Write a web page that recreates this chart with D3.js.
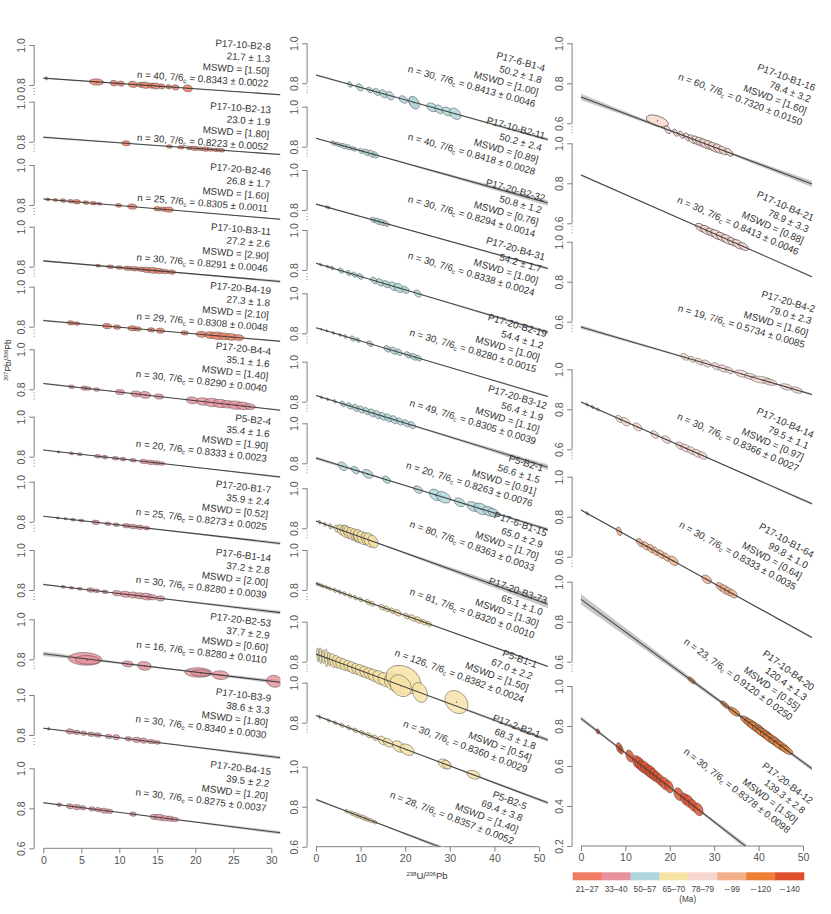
<!DOCTYPE html>
<html><head><meta charset="utf-8">
<script src="https://cdn.jsdelivr.net/npm/d3@7"></script>
<style>
body{margin:0;background:#fff}
text{font-family:"Liberation Sans",Arial,Helvetica,sans-serif}
</style>
</head><body>
<svg id="c" width="831" height="914"></svg>
<script>
// ================= DATA =================
const sampleNames = ["P17-10-B2-8","P17-10-B2-13","P17-20-B2-46","P17-10-B3-11","P17-20-B4-19","P17-20-B4-4","P5-B2-4","P17-20-B1-7","P17-6-B1-14","P17-20-B2-53","P17-10-B3-9","P17-20-B4-15",
 "P17-6-B1-4","P17-10-B2-11","P17-20-B2-32","P17-20-B4-31","P17-20-B2-19","P17-20-B3-12","P5-B2-1","P17-6-B1-15","P17-20-B3-73","P5-B1-1","P17-2-B2-1","P5-B2-5",
 "P17-10-B1-16","P17-10-B4-21","P17-20-B4-2","P17-10-B4-14","P17-10-B1-64","P17-10-B4-20","P17-20-B4-12"];
const ages = [21.7,23.0,26.8,27.2,27.3,35.1,35.4,35.9,37.2,37.7,38.6,39.5, 50.2,50.2,50.8,54.2,54.4,56.4,56.6,65.0,65.1,67.0,68.3,69.4, 78.4,78.9,79.0,79.5,99.8,120.4,139.3];
const ageErrs = [1.3,1.9,1.7,2.6,1.8,1.6,1.6,2.4,2.8,2.9,3.3,2.2, 1.8,2.4,1.2,1.7,1.2,1.9,1.5,2.9,1.0,2.2,1.8,3.8, 3.2,3.3,2.3,1.1,1.0,1.3,2.8];
const mswds = [1.50,1.80,1.60,2.90,2.10,1.40,1.90,0.52,2.00,0.60,1.80,1.20, 1.00,0.89,0.76,1.00,1.00,1.10,0.91,1.70,1.30,1.50,0.54,1.40, 1.60,0.88,1.60,0.97,0.64,0.55,1.50];
const nGrains = [40,30,25,30,29,30,20,25,30,16,30,30, 30,40,30,30,30,49,20,80,81,126,30,28, 60,30,19,30,30,23,30];
const intercepts = [0.8343,0.8223,0.8305,0.8291,0.8308,0.8290,0.8333,0.8273,0.8280,0.8280,0.8340,0.8275, 0.8413,0.8418,0.8294,0.8338,0.8280,0.8305,0.8263,0.8363,0.8320,0.8382,0.8360,0.8357, 0.7320,0.8413,0.5734,0.8366,0.8333,0.9120,0.8378];
const interceptErrs = [0.0022,0.0052,0.0011,0.0046,0.0048,0.0040,0.0023,0.0025,0.0039,0.0110,0.0030,0.0037, 0.0046,0.0028,0.0014,0.0024,0.0015,0.0039,0.0076,0.0033,0.0010,0.0024,0.0029,0.0052, 0.0150,0.0046,0.0085,0.0027,0.0035,0.0250,0.0098];
const ageGroups = [0,0,0,0,0,1,1,1,1,1,1,1, 2,2,2,2,2,2,2,3,3,3,3,3, 4,4,4,4,5,6,7];
const errCorr = [-0.1,-0.1,-0.1,-0.1,-0.1,-0.1,-0.1,-0.1,-0.1,-0.1,-0.1,-0.1, -0.35,-0.35,-0.35,-0.35,-0.35,-0.35,-0.35,-0.3,-0.35,-0.25,-0.35,-0.35, -0.5,-0.5,-0.4,-0.4,-0.4,-0.65,-0.3];
const groupLabels = ["21\u201327","33\u201340","50\u201357","65\u201370","78\u201379","\u223C99","\u223C120","\u223C140"];
const groupColors = ["#EE7B62","#E8919B","#AED5D9","#F6E2A5","#F8D6CD","#F1AE8B","#EE7F35","#DD4F2D"];
const xTicks1 = [0,5,10,15,20,25,30];
const xTicks23 = [0,10,20,30,40,50];

// measured points: [238U/206Pb, 207Pb/206Pb, half-width x, half-width y]
const pts_P17_10_B2_8 = [[0.4,.833,.15,.008],[7.0,.815,.95,.016],[9.3,.809,.5,.014],[10.2,.807,.45,.013],[11.8,.803,.6,.015],[12.8,.801,.5,.013],[13.4,.799,.7,.016],[14.2,.797,.5,.013],[14.8,.795,.6,.015],[15.6,.793,.4,.013],[16.5,.791,.4,.011],[17.4,.788,.45,.013],[19.0,.783,.6,.017]];
const pts_P17_10_B2_13 = [[10.9,.792,.55,.013],[16.6,.776,.4,.009],[18.1,.772,.45,.009],[19.2,.769,.4,.009],[19.9,.767,.5,.011],[20.6,.765,.45,.009],[21.3,.763,.5,.011],[22.0,.761,.45,.009],[22.8,.759,.5,.009],[23.5,.757,.4,.009]];
const pts_P17_20_B2_46 = [[0.6,.828,.3,.007],[1.6,.825,.35,.007],[2.6,.822,.4,.009],[3.6,.819,.4,.009],[4.4,.816,.5,.011],[5.6,.812,.4,.009],[6.6,.809,.45,.009],[7.4,.806,.35,.007],[9.9,.798,.4,.009],[11.7,.792,.6,.013],[15.0,.781,.5,.011],[15.8,.779,.45,.011],[16.5,.777,.6,.013]];
const pts_P17_10_B3_11 = [[7.2,.805,.35,.007],[8.8,.800,.5,.009],[10.0,.796,.5,.009],[11.1,.792,.55,.011],[12.0,.790,.6,.011],[12.9,.787,.55,.011],[13.6,.784,.6,.013],[14.4,.782,.7,.015],[15.2,.779,.6,.013],[16.0,.776,.55,.011],[16.9,.773,.5,.011]];
const pts_P17_20_B4_19 = [[3.6,.819,.45,.011],[4.4,.816,.4,.009],[8.4,.803,.6,.013],[9.7,.798,.5,.011],[11.7,.792,.55,.013],[12.4,.789,.5,.011],[14.2,.784,.5,.011],[15.4,.780,.55,.013],[18.6,.769,.5,.011],[20.8,.762,.7,.015],[22.0,.758,.8,.017],[22.9,.755,.9,.019],[23.8,.752,.8,.017],[24.7,.749,.8,.017],[25.7,.746,.7,.015]];
const pts_P17_20_B4_4 = [[3.7,.813,.4,.009],[5.4,.806,.45,.011],[5.9,.804,.4,.009],[7.0,.799,.4,.009],[10.1,.786,.6,.013],[12.2,.777,.7,.015],[13.4,.772,.75,.017],[15.2,.764,.6,.013],[19.6,.745,.8,.017],[21.0,.739,.9,.019],[22.2,.734,1.0,.021],[23.3,.729,1.0,.021],[24.3,.725,.9,.019],[25.3,.721,1.0,.021],[26.3,.717,.9,.019],[27.2,.713,.7,.015]];
const pts_P5_B2_4 = [[2.0,.824,.2,.005],[3.7,.817,.3,.007],[4.8,.812,.35,.007],[7.2,.802,.45,.009],[8.1,.798,.4,.009],[9.5,.792,.45,.009],[10.5,.788,.4,.009],[11.8,.782,.45,.009],[13.2,.776,.5,.011],[14.1,.772,.55,.011],[14.9,.769,.5,.011],[15.6,.766,.4,.009]];
const pts_P17_20_B1_7 = [[1.9,.819,.2,.005],[2.9,.815,.25,.005],[3.9,.810,.3,.007],[5.0,.806,.35,.007],[6.9,.797,.5,.011],[8.5,.790,.4,.009],[9.6,.785,.4,.009],[10.9,.780,.5,.011],[11.8,.776,.55,.011],[12.7,.772,.5,.011],[13.6,.768,.45,.009]];
const pts_P17_6_B1_14 = [[2.6,.816,.3,.007],[3.7,.811,.3,.007],[4.8,.806,.35,.007],[6.2,.800,.5,.011],[7.0,.796,.45,.009],[8.1,.791,.4,.009],[9.7,.784,.6,.013],[10.8,.779,.65,.015],[11.8,.775,.7,.015],[12.7,.771,.7,.015],[13.6,.767,.75,.017],[14.3,.764,.6,.013],[15.4,.758,.55,.013]];
const pts_P17_20_B2_53 = [[5.5,.802,2.2,.032],[5.8,.797,1.6,.022],[11.1,.777,.75,.015],[13.3,.767,.9,.022],[20.4,.734,1.8,.024],[20.7,.732,1.3,.016],[23.3,.721,1.1,.022],[30.4,.690,1.0,.030]];
const pts_P17_10_B3_9 = [[0.7,.831,.15,.007],[3.5,.818,.5,.013],[4.4,.813,.45,.011],[5.3,.809,.4,.011],[6.3,.804,.5,.011],[7.2,.800,.45,.011],[8.6,.793,.45,.011],[9.6,.789,.45,.013],[11.2,.781,.45,.011],[12.3,.776,.55,.013],[13.2,.772,.5,.013],[14.2,.767,.5,.011],[15.0,.763,.4,.009]];
const pts_P17_20_B4_15 = [[2.1,.818,.3,.009],[3.5,.810,.45,.013],[4.4,.806,.5,.013],[5.2,.803,.4,.011],[6.4,.797,.45,.011],[7.2,.793,.4,.011],[8.0,.788,.5,.013],[8.7,.785,.45,.011],[11.8,.771,.45,.011],[14.6,.757,.55,.013],[15.3,.755,.6,.015],[16.0,.750,.6,.013],[16.7,.748,.5,.013],[17.3,.744,.5,.011]];
const pts_P17_6_B1_4 = [[7.6,.794,.5,.014],[9.8,.780,.8,.018],[12.0,.767,.7,.014],[13.6,.757,.8,.018],[15.1,.748,.9,.020],[16.6,.738,.9,.022],[19.6,.719,1.0,.018],[21.8,.705,1.0,.025],[22.0,.703,1.2,.032],[26.0,.680,1.2,.022],[27.6,.670,1.0,.022],[29.4,.659,1.2,.022],[31.2,.648,1.3,.029]];
const pts_P17_10_B2_11 = [[3.9,.818,.6,.011],[5.0,.811,.7,.011],[6.2,.803,.8,.013],[7.3,.797,.7,.013],[8.5,.789,.7,.011],[10.1,.779,.6,.013],[11.3,.772,.8,.016],[12.4,.765,.8,.018],[13.3,.759,.7,.016]];
const pts_P17_20_B2_32 = [[2.4,.815,.3,.007],[2.9,.812,.3,.007],[12.9,.750,.7,.014],[13.9,.743,.8,.016],[14.8,.738,.8,.016],[15.7,.732,.7,.014]];
const pts_P17_20_B4_31 = [[1.0,.827,.3,.007],[2.6,.817,.35,.007],[3.6,.810,.4,.009],[5.6,.797,.6,.013],[7.3,.785,.6,.013],[8.6,.777,.6,.013],[9.9,.768,.7,.014],[13.0,.748,.8,.016],[14.4,.738,.9,.018],[15.8,.729,.9,.018],[17.3,.719,1.0,.022],[18.6,.710,1.1,.023],[20.0,.701,.9,.018],[22.8,.682,.8,.018]];
const pts_P17_20_B2_19 = [[1.2,.820,.2,.005],[2.4,.812,.25,.005],[3.9,.802,.3,.007],[5.4,.792,.35,.007],[6.6,.784,.4,.009],[8.2,.774,.6,.013],[9.4,.766,.5,.011],[12.1,.748,.7,.014],[16.0,.722,.8,.016],[17.4,.713,.9,.018],[18.6,.705,.8,.016],[20.6,.692,.8,.016],[22.0,.682,.9,.016],[23.0,.676,.7,.014]];
const pts_P17_20_B3_12 = [[1.2,.822,.2,.007],[2.6,.812,.25,.007],[4.2,.802,.35,.009],[6.0,.789,.6,.014],[7.5,.779,.7,.016],[8.9,.769,.8,.018],[10.1,.761,.8,.018],[11.3,.753,.8,.018],[12.6,.744,.9,.020],[13.8,.735,.9,.020],[15.0,.727,.9,.020],[16.2,.719,.9,.020],[17.5,.710,.9,.020],[18.8,.701,.8,.018],[20.2,.692,.8,.018],[21.5,.683,.8,.018]];
const pts_P5_B2_1 = [[6.0,.785,1.0,.022],[8.8,.766,.9,.018],[11.6,.747,1.2,.022],[15.8,.718,.9,.018],[22.9,.669,1.0,.018],[26.8,.642,1.4,.029],[28.6,.630,1.6,.029],[32.2,.605,1.2,.022],[35.2,.584,1.4,.025],[37.0,.572,1.6,.029],[38.8,.560,1.4,.025],[39.8,.553,1.2,.022]];
const pts_P17_6_B1_15 = [[0.8,.830,.3,.010],[2.0,.820,.3,.010],[3.2,.810,.35,.014],[4.6,.799,.6,.018],[5.6,.792,.9,.026],[6.4,.784,1.0,.030],[6.8,.790,.9,.026],[7.2,.778,1.0,.030],[8.0,.772,1.1,.032],[8.8,.766,1.1,.032],[9.2,.756,.9,.026],[9.6,.760,1.2,.034],[10.4,.752,1.2,.034],[11.2,.747,1.1,.032],[12.0,.741,1.3,.036],[12.8,.734,1.1,.032]];
const pts_P17_20_B3_73 = [[0.3,.830,.3,.009],[0.9,.825,.3,.009],[1.5,.820,.35,.009],[2.3,.814,.35,.009],[3.1,.807,.4,.009],[4.2,.799,.4,.011],[5.3,.790,.4,.011],[6.4,.781,.4,.011],[7.6,.771,.45,.011],[8.8,.762,.45,.011],[10.0,.752,.5,.011],[11.6,.740,.6,.013],[12.6,.731,.6,.013],[14.8,.714,.7,.014],[15.9,.705,.7,.014],[17.1,.696,.7,.014],[18.3,.686,.8,.016],[20.3,.670,.7,.014],[21.6,.660,.8,.016],[22.9,.650,.8,.016],[24.2,.639,.7,.014],[25.3,.631,.6,.013]];
const pts_P5_B1_1 = [[0.4,.834,.25,.035],[1.0,.830,.3,.040],[1.6,.825,.3,.035],[2.3,.819,.35,.045],[3.0,.813,.4,.035],[3.8,.806,.8,.035],[4.6,.800,.9,.032],[5.4,.793,1.0,.030],[6.3,.786,1.0,.030],[7.2,.779,1.0,.028],[8.1,.771,1.1,.030],[9.0,.764,1.0,.028],[10.0,.756,1.2,.030],[11.0,.748,1.2,.030],[12.0,.740,1.3,.030],[13.0,.731,1.4,.032],[14.2,.721,1.5,.035],[15.5,.710,1.6,.036],[17.5,.697,2.2,.045],[19.6,.710,3.9,.072],[19.0,.680,2.4,.055],[23.3,.646,1.7,.050],[31.5,.598,2.6,.058]];
const pts_P17_2_B2_1 = [[0.8,.829,.2,.011],[2.8,.812,.35,.009],[4.3,.800,.45,.009],[5.8,.787,.5,.011],[7.3,.775,.55,.011],[8.8,.762,.6,.011],[10.3,.750,.6,.011],[11.8,.737,.65,.013],[13.2,.725,.7,.014],[14.9,.711,1.0,.022],[16.2,.700,1.1,.022],[18.5,.681,1.4,.029],[20.4,.665,1.6,.029],[28.8,.594,1.4,.025],[29.3,.590,1.0,.022],[35.3,.540,1.5,.022]];
const pts_P5_B2_5 = [[6.9,.777,.5,.009],[8.0,.768,.6,.011],[9.0,.759,.7,.013],[9.8,.752,.6,.011],[10.6,.745,.7,.013],[11.4,.738,.6,.011],[12.3,.731,.6,.011],[13.2,.723,.5,.009]];
const pts_P17_10_B1_16 = [[17.2,.612,2.5,.030],[19.5,.568,.7,.020],[21.3,.553,.6,.018],[22.6,.543,.6,.018],[23.9,.532,.7,.020],[25.0,.521,.9,.022],[26.0,.514,1.0,.023],[27.0,.506,1.2,.024],[28.0,.497,1.3,.025],[29.0,.490,1.2,.024],[30.0,.480,1.3,.025],[31.0,.473,1.2,.024],[32.0,.464,1.0,.022],[33.3,.455,.9,.020]];
const pts_P17_10_B4_21 = [[27.0,.578,1.2,.022],[28.2,.566,1.3,.024],[29.4,.554,1.2,.022],[30.6,.543,1.4,.025],[31.8,.531,1.3,.024],[33.0,.519,1.4,.025],[34.2,.507,1.2,.022],[35.4,.495,1.3,.024],[36.6,.484,1.1,.020]];
const pts_P17_20_B4_2 = [[23.4,.424,.9,.016],[25.0,.412,.8,.015],[26.6,.401,.9,.016],[28.2,.391,1.0,.017],[30.4,.377,1.0,.017],[32.0,.366,1.2,.018],[33.4,.357,.9,.016],[36.2,.340,1.6,.018],[38.2,.326,1.4,.016],[40.6,.310,2.4,.018],[42.5,.298,1.6,.016],[46.2,.274,1.4,.016],[48.6,.258,1.3,.016]];
const pts_P17_10_B4_14 = [[1.4,.823,.3,.008],[2.6,.811,.4,.008],[3.8,.799,.4,.008],[8.6,.752,.8,.018],[10.0,.738,1.0,.021],[12.7,.712,1.0,.020],[16.6,.674,.9,.019],[19.2,.649,1.0,.019],[22.3,.618,1.0,.019],[23.6,.606,1.1,.020],[24.9,.593,1.0,.020],[26.2,.580,1.1,.020],[27.4,.569,1.0,.019]];
const pts_P17_10_B1_64 = [[1.4,.816,.3,.009],[8.6,.727,.6,.022],[13.3,.670,.8,.021],[14.6,.654,.9,.021],[15.8,.640,.9,.022],[16.8,.627,.8,.021],[18.0,.613,.9,.022],[19.2,.598,.8,.021],[20.8,.579,1.1,.024],[28.3,.487,1.1,.022],[31.4,.449,1.0,.022],[32.4,.436,1.1,.024],[33.3,.425,1.0,.022],[34.2,.415,1.0,.022]];
const pts_P17_10_B4_20 = [[24.9,.507,.8,.016],[32.4,.385,.9,.018],[34.5,.350,1.3,.023],[37.3,.305,1.4,.024],[38.4,.288,1.7,.027],[39.4,.272,1.9,.028],[40.3,.256,1.7,.027],[41.2,.242,1.9,.028],[42.1,.227,1.7,.027],[43.0,.212,1.9,.028],[44.0,.196,1.7,.027],[45.1,.178,1.8,.027],[46.2,.160,1.5,.024]];
const pts_P17_20_B4_12 = [[3.8,.773,.4,.013],[8.6,.692,.7,.025],[9.0,.680,.55,.021],[11.0,.650,.9,.030],[12.6,.621,1.0,.032],[13.2,.612,1.1,.034],[13.8,.598,1.0,.032],[14.5,.590,1.1,.034],[15.2,.576,1.0,.032],[15.8,.568,1.1,.034],[16.4,.556,1.0,.032],[17.1,.545,.9,.030],[17.8,.531,.9,.030],[18.8,.513,1.1,.032],[19.8,.497,1.0,.032],[22.0,.459,1.1,.032],[23.4,.435,1.0,.030],[24.2,.424,1.1,.032],[25.2,.404,1.0,.030],[26.4,.383,1.1,.032]];

const pointSets = [pts_P17_10_B2_8,pts_P17_10_B2_13,pts_P17_20_B2_46,pts_P17_10_B3_11,pts_P17_20_B4_19,pts_P17_20_B4_4,pts_P5_B2_4,pts_P17_20_B1_7,pts_P17_6_B1_14,pts_P17_20_B2_53,pts_P17_10_B3_9,pts_P17_20_B4_15,
 pts_P17_6_B1_4,pts_P17_10_B2_11,pts_P17_20_B2_32,pts_P17_20_B4_31,pts_P17_20_B2_19,pts_P17_20_B3_12,pts_P5_B2_1,pts_P17_6_B1_15,pts_P17_20_B3_73,pts_P5_B1_1,pts_P17_2_B2_1,pts_P5_B2_5,
 pts_P17_10_B1_16,pts_P17_10_B4_21,pts_P17_20_B4_2,pts_P17_10_B4_14,pts_P17_10_B1_64,pts_P17_10_B4_20,pts_P17_20_B4_12];

// ================= LAYOUT =================
const KY = 200; // px per unit of 207Pb/206Pb
const columns = [
  {first:0, count:12, range:[34.2,280.4], domain:[-1.2,31.2], ticks:xTicks1,
   tops:[45,101.7,165,226.7,286.7,349.3,416.7,481.7,550,619.3,695,768.3]},
  {first:12, count:12, range:[307.1,547.9], domain:[-2,52], ticks:xTicks23,
   tops:[43.3,106.7,170,230,293.3,361.7,423.3,488.3,550,621.7,682.7,766.7]},
  {first:24, count:7, range:[572.1,811.9], domain:[-2,52], ticks:xTicks23,
   tops:[43.3,143.3,241.7,369.3,476.7,581.7,686]}
];
const labelRight = [271,271,271,271,271,271,271,271,271,271,271,271,
  545,545,545,545,546.7,546.7,543.3,546.7,546.7,536.7,540,526.7,
  815,813.3,815,813.3,813.3,813.3,811.7];
const labelDy = [1.7,8.3,6.7,5,4,2.4,5,8.3,8.3,4,3.3,3.4,
  25,29.3,28.3,27.3,40.7,44.3,45,45,50.7,43.3,52.3,40,
  44.7,75,67.6,65.7,78.3,106.6,115.7];
const LINE_H = 12.3;

// ================= DRAW =================
const L238 = 1.55125e-4, L235 = 9.8485e-4, U85 = 137.818; // decay constants per Ma
function concordiaTW(t){ const a=Math.expm1(L238*t), b=Math.expm1(L235*t); return [1/a, b/a/U85]; }

const svg = d3.select("#c");
const defs = svg.append("defs");
const axisColor = "#808080", labColor = "#555";

columns.forEach((col, ci) => {
  const x = d3.scaleLinear().domain(col.domain).range(col.range);
  const lastTop = col.tops[col.count-1];
  const lastTicks = ci===2 ? [1,.8,.6,.4,.2] : [1,.8,.6];
  const axisY = lastTop + (1 - lastTicks[lastTicks.length-1]) * KY;
  defs.append("clipPath").attr("id","clip"+ci).append("rect")
    .attr("x", col.range[0]).attr("y", 20).attr("width", col.range[1]-col.range[0]).attr("height", axisY-20);

  const gx = svg.append("g").attr("transform",`translate(0,${axisY})`)
    .call(d3.axisBottom(x).tickValues(col.ticks).tickSize(5).tickFormat(d3.format("d")));
  gx.select(".domain").remove();
  gx.append("line").attr("x1",x(col.ticks[0])).attr("x2",x(col.ticks[col.ticks.length-1]))
    .attr("stroke",axisColor);
  gx.selectAll(".tick line").attr("stroke",axisColor);
  gx.selectAll(".tick text").attr("fill",labColor).attr("font-size",10.5).attr("y",8);

  for (let j=0;j<col.count;j++){
    const i = col.first + j;
    const top = col.tops[j];
    const y = d3.scaleLinear().domain([1,0]).range([top, top+KY]);
    const last = j===col.count-1;
    const yt = last ? lastTicks : (ci===2 ? [1,.8,.6] : [1,.8]);

    const gy = svg.append("g").attr("transform",`translate(${col.range[0]},0)`)
      .call(d3.axisLeft(y).tickValues(yt).tickSize(5).tickFormat(d3.format(".1f")));
    gy.select(".domain").remove();
    gy.append("line").attr("y1",y(yt[0])).attr("y2",y(yt[yt.length-1])).attr("stroke",axisColor);
    if(!last){
      gy.append("line").attr("y1",y(yt[yt.length-1])+3).attr("y2",y(yt[yt.length-1])+11)
        .attr("stroke",axisColor).attr("stroke-dasharray","1,2");
    }
    gy.selectAll(".tick line").attr("stroke",axisColor);
    gy.selectAll(".tick text").attr("fill",labColor).attr("font-size",10.5)
      .attr("x",null).attr("dy",null).attr("text-anchor","middle")
      .attr("transform","translate(-9,0) rotate(-90)");

    const y0 = intercepts[i], e = interceptErrs[i];
    const [Xt, Yt] = concordiaTW(ages[i]);
    const slope = (Yt - y0) / Xt;
    const pts = pointSets[i];
    const xc = d3.mean(pts, d => d[0]);
    const xmax = col.domain[1];
    const xs = d3.range(0, 61).map(k => k * xmax / 60);
    const hw = xv => Math.sqrt(Math.pow(e*(1 - xv/xc),2) + Math.pow(0.3*e,2));
    const g = svg.append("g").attr("clip-path",`url(#clip${ci})`);
    g.append("path").datum(xs)
      .attr("d", d3.area().x(d=>x(d)).y0(d=>y(y0+slope*d-hw(d))).y1(d=>y(y0+slope*d+hw(d))))
      .attr("fill","#c8c8c8").attr("stroke","none");

    const kx = Math.abs(x(1)-x(0)), ky = Math.abs(y(0)-y(1));
    const rho = errCorr[i];
    const color = groupColors[ageGroups[i]];
    const strokeOp = (i===24 || i===25 || i===29) ? 0.95 : 0.7;
    const eg = g.append("g");
    pts.forEach(p => {
      const sxp = p[2]*kx, syp = p[3]*ky, b = -rho*sxp*syp;
      const a = sxp*sxp, dd = syp*syp;
      const m = (a+dd)/2, r = Math.sqrt(((a-dd)/2)**2 + b*b);
      const rx = Math.sqrt(m + r), ry = Math.sqrt(Math.max(m - r, 0.04));
      const ang = 0.5*Math.atan2(2*b, a-dd)*180/Math.PI;
      const cx = x(p[0]), cy = y(p[1]);
      eg.append("ellipse").attr("cx",cx).attr("cy",cy).attr("rx",rx).attr("ry",ry)
        .attr("transform",`rotate(${ang},${cx},${cy})`)
        .attr("fill",color).attr("fill-opacity",0.82)
        .attr("stroke","#3a3a3a").attr("stroke-opacity",strokeOp).attr("stroke-width",0.6);
      eg.append("circle").attr("cx",cx).attr("cy",cy).attr("r",0.55).attr("fill","#222");
    });

    g.append("path").datum([0, xmax])
      .attr("d", d3.line().x(d=>x(d)).y(d=>y(y0+slope*d)))
      .attr("stroke","#444").attr("stroke-width",1.05).attr("fill","none");

    const theta = Math.atan(-slope*ky/kx)*180/Math.PI;
    const lx = labelRight[i], ly = top + labelDy[i];
    const tg = svg.append("g").attr("transform",`translate(${lx},${ly}) rotate(${theta})`)
      .attr("font-size",9.8).attr("fill","#333").attr("text-anchor","end");
    const lines = [sampleNames[i], `${ages[i].toFixed(1)} \u00B1 ${ageErrs[i].toFixed(1)}`, `MSWD = [${mswds[i].toFixed(2)}]`];
    lines.forEach((s,k)=> tg.append("text").attr("y", k*LINE_H).attr("dy","0.35em").text(s));
    const t4 = tg.append("text").attr("y", 3*LINE_H).attr("dy","0.35em");
    t4.append("tspan").text(`n = ${nGrains[i]}, 7/6`);
    t4.append("tspan").attr("font-size",6.5).attr("dy",2).text("c");
    t4.append("tspan").attr("dy",-2).text(` = ${intercepts[i].toFixed(4)} \u00B1 ${interceptErrs[i].toFixed(4)}`);
  }
});

const xt = svg.append("text").attr("x",427).attr("y",879).attr("text-anchor","middle")
  .attr("font-size",9.5).attr("fill","#333");
xt.append("tspan").attr("font-size",6).attr("dy",-3.5).text("238");
xt.append("tspan").attr("dy",3.5).text("U/");
xt.append("tspan").attr("font-size",6).attr("dy",-3.5).text("206");
xt.append("tspan").attr("dy",3.5).text("Pb");

const ytl = svg.append("text").attr("transform","translate(11,360) rotate(-90)").attr("text-anchor","middle")
  .attr("font-size",8.5).attr("fill","#333");
ytl.append("tspan").attr("font-size",5.5).attr("dy",-3).text("207");
ytl.append("tspan").attr("dy",3).text("Pb/");
ytl.append("tspan").attr("font-size",5.5).attr("dy",-3).text("206");
ytl.append("tspan").attr("dy",3).text("Pb");

const lxs = d3.scaleBand().domain(groupLabels).range([572.7, 804]).paddingInner(0);
const lg = svg.append("g");
lg.selectAll("rect").data(groupLabels).join("rect")
  .attr("x",d=>lxs(d)).attr("y",872.3).attr("width",lxs.bandwidth()+0.3).attr("height",8)
  .attr("fill",(d,k)=>groupColors[k]);
lg.selectAll("text.lab").data(groupLabels).join("text").attr("class","lab")
  .attr("x",d=>lxs(d)+lxs.bandwidth()/2).attr("y",889.5).attr("dy","0.35em")
  .attr("text-anchor","middle").attr("font-size",8.2).attr("fill","#444").text(d=>d);
lg.append("text").attr("x",687.7).attr("y",899.5).attr("dy","0.35em").attr("text-anchor","middle")
  .attr("font-size",8.2).attr("fill","#444").text("(Ma)");
</script>
</body></html>
